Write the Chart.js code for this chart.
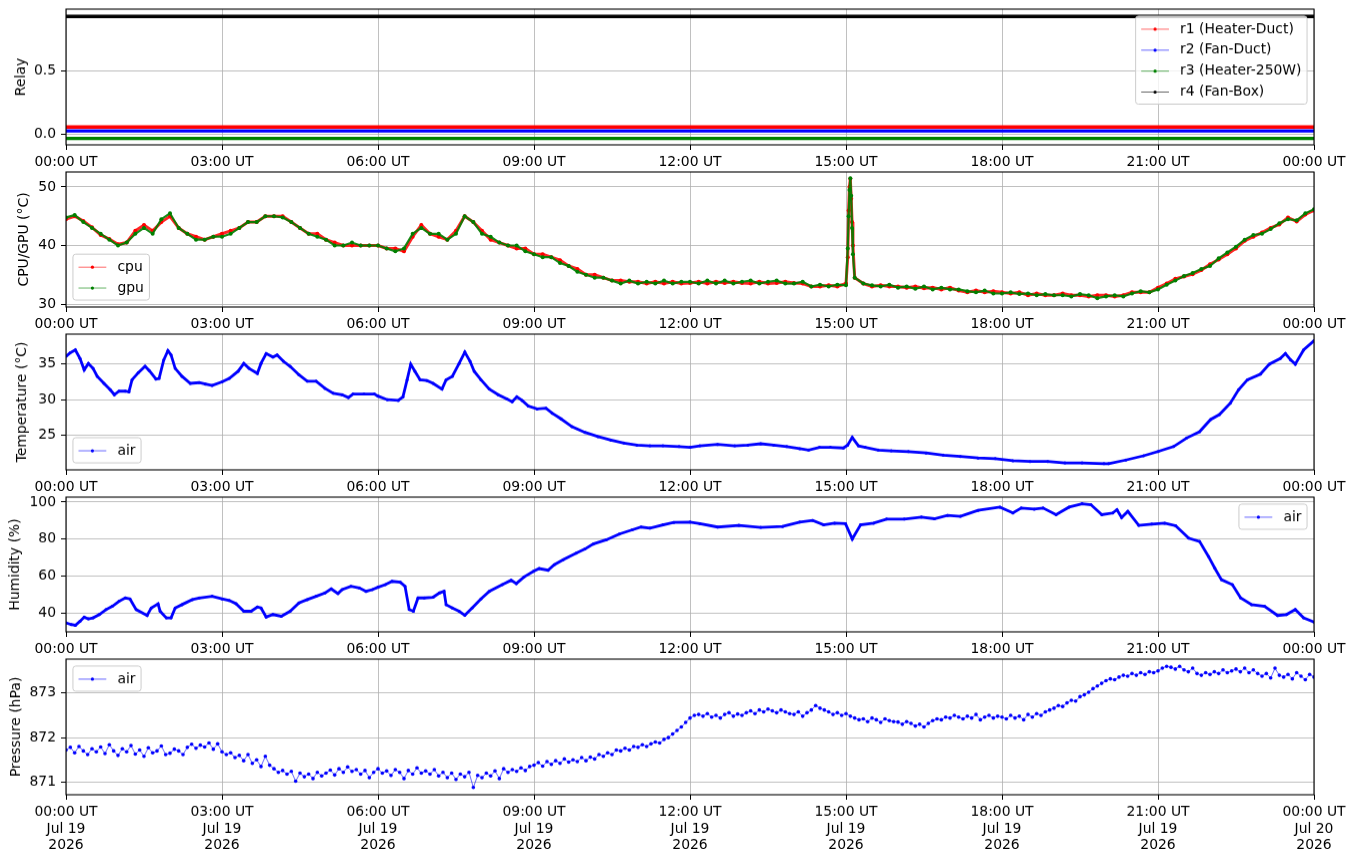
<!DOCTYPE html>
<html><head><meta charset="utf-8">
<script src="https://cdn.jsdelivr.net/npm/chart.js@4.4.1/dist/chart.umd.min.js"></script>
<style>
html,body{margin:0;padding:0;background:#fff;width:1355px;height:861px;overflow:hidden;position:relative}
canvas{position:absolute;left:0}
</style></head><body>
<canvas id="c1"></canvas><canvas id="c2"></canvas><canvas id="c3"></canvas><canvas id="c4"></canvas><canvas id="c5"></canvas>
<script>
// ---------------- DATA (x in hours since 00:00 UT, Jul 19 2026) ----------------
const xTickHours = [0,3,6,9,12,15,18,21,24];

// Relay states (drawn with small offsets so the four lines are separated)
const relayT = [0, 24];
const r1 = [0.06, 0.06];
const r2 = [0.03, 0.03];
const r3 = [-0.03, -0.03];
const r4 = [0.93, 0.93];

// CPU / GPU temperature, every 10 minutes
const cpu = [
 44.5,45.0,44.2,43.1,41.8,41.1, 40.2,40.5,42.5,43.5,42.5,44.0, 45.0,43.0,42.0,41.5,41.0,41.5,
 42.0,42.5,43.0,44.0,44.0,45.0, 45.0,45.0,44.0,43.0,42.0,42.0, 41.0,40.5,40.0,40.0,40.0,40.0,
 40.0,39.5,39.5,39.0,41.5,43.5, 42.0,41.5,41.0,42.5,45.0,44.0, 42.5,41.0,40.5,40.0,39.5,39.5,
 38.5,38.5,38.0,37.5,36.5,36.0, 35.0,35.0,34.5,34.0,34.0,33.8, 33.8,33.5,33.8,33.5,33.8,33.5,
 33.6,33.8,33.5,33.8,33.6,33.8, 33.6,33.5,33.8,33.5,33.6,33.8, 33.6,33.5,33.0,33.0,33.2,33.0,
 33.5,34.5,33.5,33.0,33.2,33.0, 33.0,32.8,33.0,32.7,32.8,32.5, 32.8,32.3,32.0,32.3,32.0,32.2,
 32.0,31.8,32.0,31.5,31.8,31.5, 31.5,31.8,31.5,31.5,31.3,31.5, 31.5,31.3,31.5,32.0,32.0,32.0,
 32.8,33.5,34.3,34.7,35.1,35.8, 36.8,37.6,38.5,39.5,40.8,41.5, 42.2,43.0,43.6,44.8,44.1,45.3,
 46.0];
const gpu = [
 44.8,45.2,44.0,43.0,42.0,41.0, 40.0,40.5,42.0,43.0,42.0,44.5, 45.5,43.0,42.0,41.0,41.0,41.5,
 41.5,42.0,43.0,44.0,44.0,45.0, 45.0,44.8,44.0,43.0,42.0,41.5, 41.0,40.0,40.0,40.5,40.0,40.0,
 40.0,39.5,39.0,39.5,42.0,43.0, 42.0,42.0,41.0,42.0,45.0,44.0, 42.0,41.5,40.5,40.0,40.0,39.0,
 38.5,38.0,38.0,37.0,36.5,35.5, 35.0,34.5,34.5,34.0,33.5,34.0, 33.5,33.8,33.5,34.0,33.5,33.8,
 33.8,33.5,34.0,33.5,34.0,33.5, 33.8,34.0,33.5,33.8,34.0,33.5, 33.5,33.8,33.0,33.3,33.0,33.3,
 33.2,34.5,33.5,33.2,33.0,33.3, 32.8,33.0,32.6,33.0,32.5,32.8, 32.5,32.5,32.2,32.0,32.3,31.8,
 31.8,32.0,31.7,31.8,31.5,31.7, 31.5,31.5,31.3,31.7,31.5,31.0, 31.3,31.5,31.3,31.8,32.2,32.0,
 32.5,33.3,34.0,34.8,35.3,36.0, 36.5,37.8,38.8,39.8,41.0,41.8, 42.0,42.8,43.8,44.5,44.3,45.5,
 46.2];
// extra samples during the short spike just after 15:00 (minutes after 15:00)
const spikeMin = [2,3,4,5,6,7,8];
const cpuSpike = [38.0,46.0,50.0,51.4,48.0,44.0,40.0];
const gpuSpike = [39.5,45.0,49.5,51.5,48.5,43.0,38.5];

// Air temperature
const tempT = [0,0.08,0.18,0.27,0.35,0.43,0.52,0.60,0.73,0.85,0.93,1.02,1.14,1.21,1.27,1.39,1.52,1.60,1.73,1.79,
 1.88,1.96,2.02,2.10,2.23,2.39,2.56,2.68,2.81,3.00,3.14,3.31,3.42,3.52,3.68,3.75,3.85,3.98,4.06,4.18,
 4.31,4.48,4.64,4.81,4.98,5.14,5.31,5.43,5.52,5.73,5.93,6.00,6.18,6.39,6.48,6.56,6.63,6.71,6.81,6.94,
 7.06,7.23,7.31,7.43,7.56,7.67,7.77,7.85,7.98,8.14,8.31,8.48,8.58,8.67,8.77,8.89,9.06,9.23,9.35,9.52,
 9.73,9.98,10.23,10.48,10.73,10.98,11.23,11.48,11.79,12.00,12.19,12.53,12.86,13.11,13.36,13.61,13.86,14.11,14.28,14.49,
 14.70,14.95,15.03,15.12,15.24,15.37,15.62,15.87,16.20,16.54,16.87,17.20,17.54,17.87,18.21,18.54,18.88,19.21,19.54,19.96,
 20.05,20.38,20.72,21.00,21.30,21.55,21.80,22.01,22.18,22.39,22.55,22.72,22.97,23.14,23.35,23.45,23.55,23.64,23.80,24.00];
const temp = [36.1,36.6,37.0,35.8,34.2,35.1,34.4,33.3,32.3,31.4,30.7,31.2,31.2,31.1,32.8,33.8,34.7,34.1,32.9,33.0,
 35.6,36.9,36.3,34.4,33.3,32.3,32.4,32.2,32.0,32.5,33.0,34.0,35.1,34.4,33.7,35.1,36.5,36.0,36.3,35.4,
 34.7,33.5,32.6,32.6,31.6,30.9,30.7,30.3,30.8,30.8,30.8,30.5,30.0,29.9,30.4,32.8,35.0,34.0,32.8,32.7,
 32.3,31.5,32.8,33.3,35.1,36.7,35.4,34.0,32.8,31.5,30.7,30.1,29.7,30.4,29.9,29.1,28.7,28.8,28.1,27.3,
 26.2,25.4,24.8,24.3,23.9,23.6,23.5,23.5,23.4,23.3,23.5,23.7,23.5,23.6,23.8,23.6,23.4,23.1,22.9,23.3,
 23.3,23.2,23.6,24.7,23.5,23.3,22.9,22.8,22.7,22.5,22.2,22.0,21.8,21.7,21.4,21.3,21.3,21.1,21.1,21.0,
 21.0,21.5,22.1,22.7,23.4,24.6,25.5,27.2,27.9,29.5,31.4,32.8,33.6,35.0,35.8,36.5,35.6,35.0,37.0,38.3];

// Relative humidity
const humT = [0,0.10,0.18,0.27,0.35,0.43,0.52,0.64,0.77,0.89,1.02,1.14,1.23,1.35,1.56,1.64,1.77,1.81,1.93,2.02,
 2.10,2.23,2.43,2.56,2.81,3.00,3.14,3.27,3.42,3.56,3.68,3.75,3.85,3.98,4.14,4.31,4.48,4.64,4.81,4.98,
 5.10,5.23,5.31,5.48,5.64,5.77,5.89,6.00,6.14,6.27,6.43,6.52,6.60,6.68,6.77,6.89,7.06,7.18,7.27,7.31,
 7.43,7.56,7.67,7.81,7.98,8.14,8.39,8.56,8.66,8.81,8.99,9.10,9.27,9.39,9.56,9.81,9.98,10.14,10.39,10.64,
 10.89,11.06,11.23,11.48,11.69,12.00,12.19,12.53,12.94,13.36,13.78,14.11,14.36,14.57,14.78,14.99,15.12,15.28,15.53,15.78,
 16.12,16.45,16.70,16.95,17.20,17.54,17.96,18.21,18.37,18.62,18.79,19.04,19.29,19.54,19.71,19.92,20.13,20.21,20.30,20.42,
 20.63,20.88,21.13,21.34,21.59,21.80,21.97,22.09,22.22,22.43,22.59,22.80,23.05,23.30,23.47,23.64,23.80,24.00];
const hum = [34.6,33.7,33.3,35.5,37.7,36.8,37.3,39.1,41.8,43.6,46.3,48.1,47.6,41.8,38.6,42.7,44.9,40.9,37.3,37.3,
 42.7,44.5,47.2,48.1,49.0,47.6,46.7,45.0,40.9,40.9,43.2,42.7,37.8,39.1,38.2,40.9,45.4,47.2,49.0,50.8,
 53.0,50.5,52.6,54.4,53.5,51.7,52.6,53.9,55.3,57.1,56.6,54.4,41.8,40.9,48.1,48.1,48.5,50.8,51.7,44.5,
 42.7,40.9,38.7,42.7,47.6,51.7,55.3,57.7,55.9,59.5,62.5,64.0,63.1,66.1,68.8,72.4,74.6,77.3,79.6,82.7,
 85.0,86.5,85.9,87.7,89.0,89.2,88.3,86.5,87.4,86.3,86.8,89.2,90.1,87.7,88.6,88.3,80.0,87.7,88.6,90.8,
 90.8,91.9,91.0,92.8,92.3,95.5,97.3,94.1,96.8,96.2,96.8,93.2,97.3,99.1,98.6,93.2,94.1,95.9,91.7,95.0,
 87.4,88.1,88.6,87.2,80.5,78.7,70.6,64.3,58.0,55.3,48.1,44.5,43.6,38.6,39.1,41.8,37.3,35.0];

// Air pressure, every 5 minutes (12 values per hour)
const pres = [
 871.72,871.78,871.66,871.80,871.70,871.62,871.75,871.68,871.79,871.64,871.84,871.70,
 871.60,871.75,871.68,871.82,871.63,871.72,871.58,871.77,871.66,871.70,871.81,871.62,
 871.65,871.74,871.70,871.62,871.78,871.85,871.76,871.83,871.79,871.88,871.74,871.86,
 871.68,871.62,871.66,871.55,871.60,871.48,871.62,871.42,871.50,871.35,871.58,871.38,
 871.30,871.22,871.26,871.18,871.24,871.02,871.20,871.12,871.18,871.08,871.22,871.14,
 871.20,871.27,871.16,871.30,871.22,871.34,871.24,871.28,871.18,871.26,871.10,871.22,
 871.30,871.20,871.25,871.15,871.28,871.22,871.08,871.26,871.18,871.32,871.20,871.25,
 871.18,871.28,871.14,871.22,871.10,871.20,871.06,871.18,871.12,871.22,870.88,871.15,
 871.10,871.20,871.14,871.25,871.08,871.30,871.22,871.28,871.24,871.32,871.26,871.35,
 871.38,871.44,871.36,871.46,871.40,871.48,871.42,871.52,871.45,871.50,871.46,871.55,
 871.48,871.56,871.52,871.62,871.58,871.66,871.62,871.72,871.70,871.76,871.72,871.80,
 871.78,871.84,871.80,871.86,871.90,871.88,871.96,872.00,872.08,872.16,872.24,872.34,
 872.44,872.50,872.52,872.48,872.54,872.46,872.50,872.44,872.52,872.56,872.48,872.53,
 872.50,872.56,872.60,872.54,872.62,872.58,872.64,872.60,872.56,872.62,872.58,872.54,
 872.52,872.58,872.48,872.56,872.62,872.72,872.66,872.62,872.58,872.52,872.56,872.50,
 872.54,872.48,872.44,872.40,872.42,872.36,872.44,872.40,872.34,872.42,872.38,872.36,
 872.35,872.30,872.36,872.32,872.26,872.30,872.24,872.32,872.38,872.42,872.40,872.46,
 872.44,872.50,872.46,872.42,872.48,872.44,872.52,872.40,872.46,872.50,872.44,872.48,
 872.46,872.42,872.50,872.44,872.48,872.40,872.52,872.46,872.54,872.50,872.58,872.62,
 872.66,872.72,872.70,872.78,872.84,872.82,872.92,872.96,873.02,873.10,873.16,873.22,
 873.28,873.32,873.30,873.36,873.40,873.38,873.44,873.40,873.46,873.42,873.48,873.46,
 873.50,873.56,873.60,873.58,873.54,873.60,873.52,873.48,873.56,873.44,873.40,873.46,
 873.42,873.48,873.44,873.52,873.46,873.50,873.54,873.48,873.56,873.46,873.52,873.44,
 873.38,873.44,873.34,873.56,873.40,873.36,873.42,873.32,873.46,873.38,873.30,873.42,
 873.36];

// ---------------- HELPERS ----------------
const FONT = '"DejaVu Sans", sans-serif';
const FS = 13.9;
Chart.defaults.font.family = FONT;
Chart.defaults.font.size = FS;
Chart.defaults.color = '#000';

const pairs = (xs, ys) => xs.map((x, i) => ({x, y: ys[i]}));
const regular = (ys, stepH) => ys.map((y, i) => ({x: i * stepH, y}));
const withSpike = (base, sp) => base.concat(spikeMin.map((m, i) => ({x: 15 + m / 60, y: sp[i]}))).sort((a, b) => a.x - b.x);
const hhLabel = h => String(h % 24).padStart(2, '0') + ':00 UT';

const framePlugin = {
  id: 'frame',
  afterDatasetsDraw(chart) {
    const {ctx, chartArea: a} = chart;
    ctx.save();
    ctx.strokeStyle = '#000';
    ctx.lineWidth = 1.1;
    ctx.strokeRect(a.left, a.top, a.right - a.left, a.bottom - a.top);
    ctx.restore();
  }
};

const legendPlugin = {
  id: 'mplLegend',
  afterDatasetsDraw(chart, args, opts) {
    if (!opts || !opts.items) return;
    const ctx = chart.ctx, a = chart.chartArea;
    ctx.save();
    ctx.font = FS + 'px ' + FONT;
    const tw = Math.max(...opts.items.map(it => ctx.measureText(it.label).width));
    const pad = 0.4 * FS, hl = 2 * FS, htp = 0.8 * FS, ls = 0.5 * FS, bap = 0.5 * FS;
    const n = opts.items.length;
    const w = pad + hl + htp + tw + pad;
    const h = 2 * pad + n * FS + (n - 1) * ls;
    const x = opts.loc.indexOf('right') >= 0 ? a.right - bap - w : a.left + bap;
    const y = opts.loc.indexOf('upper') >= 0 ? a.top + bap : a.bottom - bap - h;
    ctx.beginPath();
    ctx.roundRect(x, y, w, h, 0.2 * FS);
    ctx.fillStyle = 'rgba(255,255,255,0.8)';
    ctx.fill();
    ctx.strokeStyle = '#cccccc';
    ctx.lineWidth = 1;
    ctx.stroke();
    opts.items.forEach((it, i) => {
      const cy = y + pad + FS / 2 + i * (FS + ls) + 0.5;
      const lx = x + pad;
      ctx.globalAlpha = 0.6;
      ctx.strokeStyle = it.color;
      ctx.lineWidth = 1;
      ctx.beginPath(); ctx.moveTo(lx, cy); ctx.lineTo(lx + hl, cy); ctx.stroke();
      ctx.globalAlpha = 1;
      ctx.fillStyle = it.color;
      ctx.beginPath(); ctx.arc(lx + hl / 2, cy, 1.6, 0, Math.PI * 2); ctx.fill();
      ctx.fillStyle = '#000';
      ctx.textBaseline = 'middle';
      ctx.textAlign = 'left';
      ctx.fillText(it.label, lx + hl + htp, cy);
    });
    ctx.restore();
  }
};

const gridOpts = {color: '#b0b0b0', lineWidth: 0.8, tickColor: '#000', tickLength: 5, tickWidth: 1};

function panel(id, T, B, xH, cfg) {
  const PT = 16;
  const cv = document.getElementById(id);
  const H = (B - T) + PT + xH;
  cv.width = 1355; cv.height = H;
  cv.style.width = '1355px'; cv.style.height = H + 'px';
  cv.style.top = (T - PT) + 'px';
  new Chart(cv, {
    type: 'line',
    data: {datasets: cfg.datasets},
    options: {
      responsive: false, animation: false, devicePixelRatio: 1,
      layout: {padding: {top: PT, right: 41, left: 0, bottom: 0}},
      plugins: {legend: {display: false}, tooltip: {enabled: false}, mplLegend: cfg.legend},
      scales: {
        x: {
          type: 'linear', min: 0, max: 24,
          afterBuildTicks: s => { s.ticks = xTickHours.map(v => ({value: v})); },
          afterFit: s => { s.height = xH; },
          ticks: {autoSkip: false, maxRotation: 0, padding: 4,
            callback: v => cfg.bottom ? [hhLabel(v), v === 24 ? 'Jul 20' : 'Jul 19', '2026'] : hhLabel(v)},
          grid: gridOpts, border: {display: false}
        },
        y: {
          type: 'linear', min: cfg.yMin, max: cfg.yMax,
          afterBuildTicks: s => { s.ticks = cfg.yTicks.map(v => ({value: v})); },
          afterFit: s => { s.width = 66; },
          ticks: {padding: 5, callback: v => cfg.fmt ? cfg.fmt(v) : String(v)},
          grid: gridOpts, border: {display: false},
          title: {display: true, text: cfg.title, color: '#000', font: {size: FS}, padding: {top: cfg.titlePad, bottom: 0}}
        }
      }
    },
    plugins: [framePlugin, legendPlugin]
  });
}

function lineSet(label, pts, color, bw, pr, alpha, order) {
  return {label, data: pts, borderColor: alpha < 1 ? color.replace('rgb', 'rgba').replace(')', ',' + alpha + ')') : color,
    backgroundColor: color, pointBackgroundColor: color, pointBorderWidth: 0,
    borderWidth: bw, pointRadius: pr, tension: 0, order: order || 0, clip: 0};
}

const RED = 'rgb(255,0,0)', BLUE = 'rgb(0,0,255)', GREEN = 'rgb(0,128,0)', BLACK = 'rgb(0,0,0)';

panel('c1', 9.3, 145, 26, {
  yMin: -0.08, yMax: 0.987, yTicks: [0, 0.5], fmt: v => v.toFixed(1), title: 'Relay', titlePad: 13.3,
  datasets: [
    lineSet('r1 (Heater-Duct)', pairs(relayT, r1), RED, 3.4, 0, 1, 4),
    lineSet('r2 (Fan-Duct)', pairs(relayT, r2), BLUE, 3.4, 0, 1, 3),
    lineSet('r3 (Heater-250W)', pairs(relayT, r3), GREEN, 3.4, 0, 1, 2),
    lineSet('r4 (Fan-Box)', pairs(relayT, r4), BLACK, 3.4, 0, 1, 1)
  ],
  legend: {loc: 'upper right', items: [
    {label: 'r1 (Heater-Duct)', color: RED}, {label: 'r2 (Fan-Duct)', color: BLUE},
    {label: 'r3 (Heater-250W)', color: GREEN}, {label: 'r4 (Fan-Box)', color: BLACK}]}
});

panel('c2', 172.3, 307.3, 26, {
  yMin: 29.49, yMax: 52.56, yTicks: [30, 40, 50], title: 'CPU/GPU (°C)', titlePad: 16.2,
  datasets: [
    lineSet('cpu', withSpike(regular(cpu, 1 / 6), cpuSpike), RED, 3.0, 2.0, 0.85, 1),
    lineSet('gpu', withSpike(regular(gpu, 1 / 6), gpuSpike), GREEN, 2.2, 2.0, 0.9, 0)
  ],
  legend: {loc: 'lower left', items: [{label: 'cpu', color: RED}, {label: 'gpu', color: GREEN}]}
});

panel('c3', 334.3, 470, 26, {
  yMin: 20.12, yMax: 39.23, yTicks: [25, 30, 35], title: 'Temperature (°C)', titlePad: 14.2,
  datasets: [lineSet('air', pairs(tempT, temp), BLUE, 2.8, 1.5, 1)],
  legend: {loc: 'lower left', items: [{label: 'air', color: BLUE}]}
});

panel('c4', 497.3, 632.3, 26, {
  yMin: 29.73, yMax: 102.7, yTicks: [40, 60, 80, 100], title: 'Humidity (%)', titlePad: 7.2,
  datasets: [lineSet('air', pairs(humT, hum), BLUE, 2.8, 1.5, 1)],
  legend: {loc: 'upper right', items: [{label: 'air', color: BLUE}]}
});

panel('c5', 659.3, 795, 62, {
  yMin: 870.716, yMax: 873.764, yTicks: [871, 872, 873], title: 'Pressure (hPa)', titlePad: 7.7, bottom: true,
  datasets: [lineSet('air', regular(pres, 1 / 12), BLUE, 1.0, 1.8, 0.6)],
  legend: {loc: 'upper left', items: [{label: 'air', color: BLUE}]}
});
</script>
</body></html>
